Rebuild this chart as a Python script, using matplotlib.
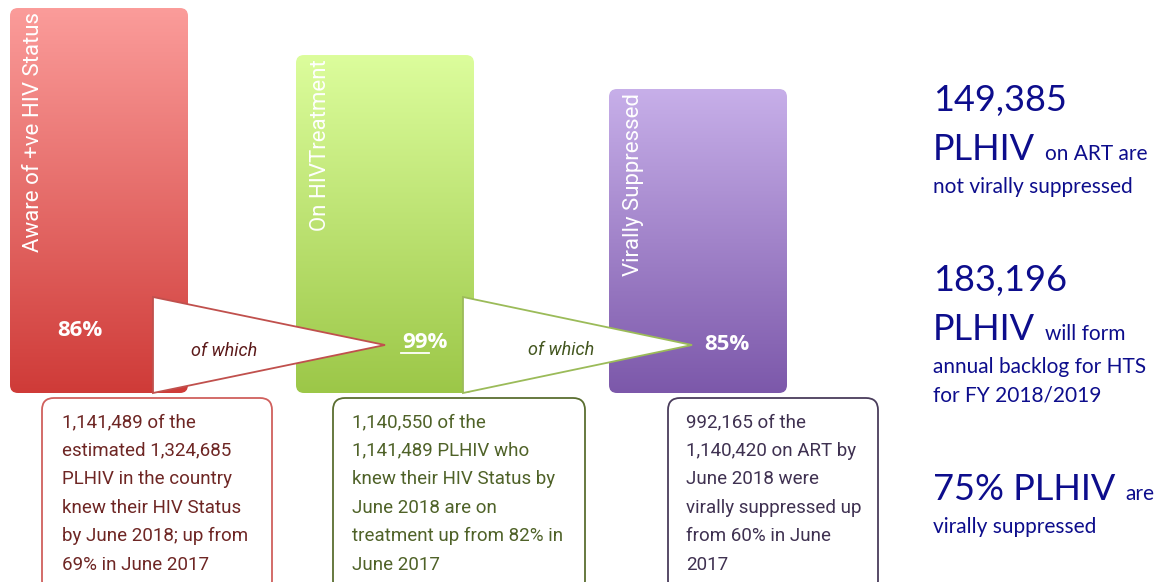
import numpy as np
import matplotlib.pyplot as plt
from matplotlib.patches import FancyBboxPatch, Polygon

# cascade stages
stages = ['Aware of +ve HIV Status', 'On HIVTreatment', 'Virally Suppressed']
bar_heights = [385, 338, 304]
pct_labels = ['86%', '99%', '85%']
arrow_text = 'of which'

box_texts = [
    ['1,141,489 of the', 'estimated 1,324,685', 'PLHIV in the country',
     'knew their HIV Status', 'by June 2018; up from', '69% in June 2017'],
    ['1,140,550 of the', '1,141,489 PLHIV who', 'knew their HIV Status by',
     'June 2018 are on', 'treatment up from 82% in', 'June 2017'],
    ['992,165 of the', '1,140,420 on ART by', 'June 2018 were',
     'virally suppressed up', 'from 60% in June', '2017'],
]

# side notes: (big number, big word, small tail, extra small lines)
side_notes = [
    ('149,385', 'PLHIV', 'on ART are', ['not virally suppressed']),
    ('183,196', 'PLHIV', 'will form', ['annual backlog for HTS', 'for FY 2018/2019']),
    (None, '75% PLHIV', 'are', ['virally suppressed']),
]

top_colors = ['#fb9c9a', '#dcfd9c', '#c7afe9']
bot_colors = ['#cf3b38', '#9cc748', '#7c58aa']
edge_colors = ['#c0504d', '#9bbb59']
text_colors = ['#6e2624', '#4f6228', '#3f3151']
arrow_txt_colors = ['#5c1a1a', '#43561f']
box_edges = ['#d0605d', '#5a6e30', '#4a3d5c']
navy = '#0d0d8c'

narrow = 'Roboto'
side_font = 'Lato'

fig = plt.figure(figsize=(11.64, 5.82), dpi=100)
ax = fig.add_axes([0, 0, 1, 1])
ax.set_xlim(0, 1164)
ax.set_ylim(-189, 393)
ax.axis('off')

bar_left = [10, 296, 609]
bar_w = 178
bars = ax.bar(bar_left, bar_heights, width=bar_w, align='edge', color='none')


def hex_rgb(c):
    c = c.lstrip('#')
    return np.array([int(c[i:i + 2], 16) / 255 for i in (0, 2, 4)])


for i, rect in enumerate(bars):
    x0, y0 = rect.get_x(), rect.get_y()
    w, h = rect.get_width(), rect.get_height()
    shape = FancyBboxPatch((x0, y0), w, h, boxstyle='round,pad=0,rounding_size=8',
                           facecolor='none', edgecolor='none')
    ax.add_patch(shape)
    t = np.linspace(0, 1, 256)[:, None]
    grad = hex_rgb(top_colors[i]) * (1 - t) + hex_rgb(bot_colors[i]) * t
    img = ax.imshow(grad[:, None, :], extent=(x0, x0 + w, y0, y0 + h),
                    origin='upper', aspect='auto', zorder=1)
    img.set_clip_path(shape)

    # rotated stage name near the top-left of the bar
    ax.text(x0 + 24, y0 + h - 4, stages[i], rotation=90, ha='center', va='top',
            color='white', fontsize=16, family=narrow, zorder=3)

ax.set_xlim(0, 1164)
ax.set_ylim(-189, 393)

# percentages
pct_pos = [(80, 62), (425, 50), (727, 48)]
for (px, py), lab in zip(pct_pos, pct_labels):
    ax.text(px, py, lab, ha='center', va='center', color='white', fontsize=16,
            fontweight='bold', family='Open Sans', zorder=5)
# underline under the 99
ax.plot([401, 429], [40, 40], color='white', lw=1.3, zorder=5)

# "of which" arrows between the bars
tri_x = [(153, 385), (463, 692)]
tri_txt = [(224, 42), (561, 43)]
for i, ((xl, xt), (tx, ty)) in enumerate(zip(tri_x, tri_txt)):
    tri = Polygon([(xl, 96), (xl, 0), (xt, 48)], closed=True, facecolor='white',
                  edgecolor=edge_colors[i], lw=1.3, zorder=4)
    ax.add_patch(tri)
    ax.text(tx, ty, arrow_text, ha='center', va='center', style='italic',
            color=arrow_txt_colors[i], fontsize=13, family=narrow, zorder=5)

# description boxes
box_x = [(42, 272), (333, 585), (668, 878)]
text_x = [62, 352, 686]
for i, (xa, xb) in enumerate(box_x):
    box = FancyBboxPatch((xa, -200), xb - xa, 195,
                         boxstyle='round,pad=0,rounding_size=12',
                         facecolor='white', edgecolor=box_edges[i], lw=1.3, zorder=2)
    ax.add_patch(box)
    for j, line in enumerate(box_texts[i]):
        ax.text(text_x[i], -29 - j * 28.6, line, ha='left', va='center',
                color=text_colors[i], fontsize=13.5, family=narrow, zorder=3)

# side notes in navy
fig.canvas.draw()
renderer = fig.canvas.get_renderer()
inv = ax.transData.inverted()
note_y = [293, 113, -97]
for (num, big, tail, rest), y in zip(side_notes, note_y):
    yy = y
    if num:
        ax.text(933, yy, num, ha='left', va='center', color=navy, fontsize=26,
                family=side_font)
        yy -= 50
    tb = ax.text(933, yy, big, ha='left', va='center', color=navy, fontsize=26,
                 family=side_font)
    bb = tb.get_window_extent(renderer)
    xr = inv.transform((bb.x1, bb.y0))[0]
    ax.text(xr + 10, yy - 4, tail, ha='left', va='center', color=navy,
            fontsize=15, family=side_font)
    yy -= 37
    for line in rest:
        ax.text(933, yy, line, ha='left', va='center', color=navy, fontsize=15,
                family=side_font)
        yy -= 29

fig.savefig('out.png', dpi=100)
